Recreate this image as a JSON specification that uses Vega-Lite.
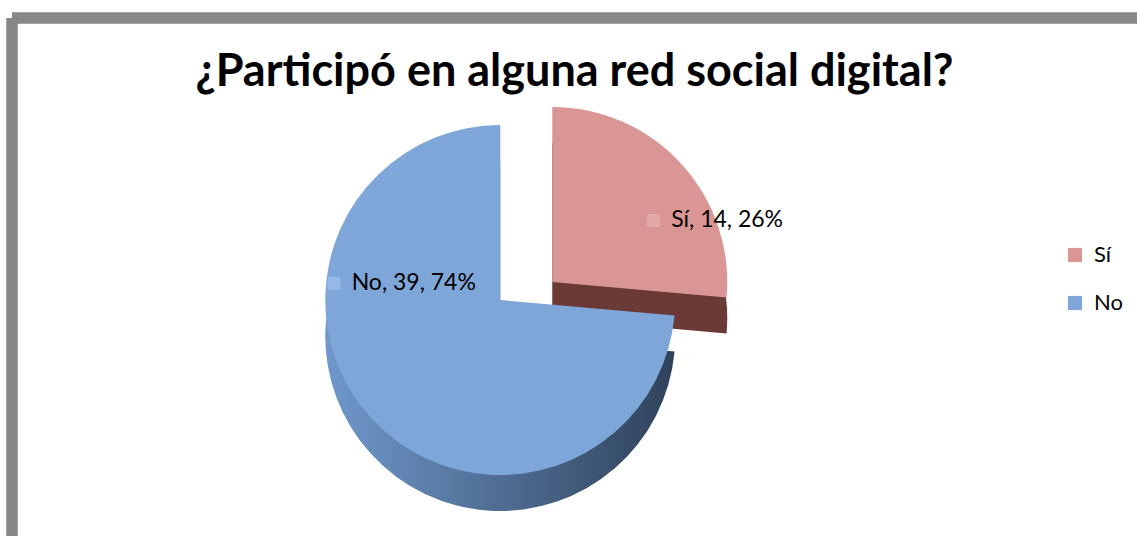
{
  "$schema": "https://vega.github.io/schema/vega-lite/v6.json",
  "autosize": "none",
  "width": 1125,
  "height": 518,
  "padding": {"left": 12, "top": 18, "right": 0, "bottom": 0},
  "background": "white",
  "config": {
    "view": {"stroke": null},
    "font": "Lato"
  },
  "title": {
    "text": "¿Participó en alguna red social digital?",
    "font": "Lato",
    "fontSize": 45,
    "fontWeight": "bold",
    "color": "#000000",
    "anchor": "middle",
    "offset": -82
  },
  "data": {
    "values": [
      {"cat": "Sí", "n": 14},
      {"cat": "No", "n": 39}
    ]
  },
  "transform": [
    {"joinaggregate": [{"op": "sum", "field": "n", "as": "total"}]},
    {"calculate": "datum.cat + ', ' + datum.n + ', ' + format(datum.n / datum.total, '.0%')", "as": "label"}
  ],
  "layer": [
    {
      "mark": {"type": "rect", "x": 0, "y": 0, "x2": "width", "y2": "height", "fill": null, "stroke": "#888888", "strokeWidth": 11, "strokeDash": [1125, 1643, 518, 0]},
      "encoding": {}
    },
    {
      "mark": {"type": "arc", "x": {"expr": "width*0.434 + 52"}, "y": {"expr": "282 - 18 + 36"}, "fill": "#6b3a36", "radius": 175},
      "encoding": {
        "theta": {"field": "n", "type": "quantitative", "stack": true},
        "order": {"field": "cat", "sort": "descending"},
        "opacity": {"condition": {"test": "datum.cat == 'Sí'", "value": 1}, "value": 0}
      }
    },
    {
      "mark": {"type": "arc", "x": {"expr": "width*0.434 + 52"}, "y": {"expr": "282 - 18"}, "radius": 175},
      "encoding": {
        "theta": {"field": "n", "type": "quantitative", "stack": true},
        "order": {"field": "cat", "sort": "descending"},
        "color": {"field": "cat", "type": "nominal", "scale": {"domain": ["Sí", "No"], "range": ["#d99694", "#7ea6d8"]},
          "legend": {"title": null, "orient": "none", "legendX": 1052, "legendY": 226, "symbolType": "square", "symbolSize": 200, "labelFontSize": 22, "labelFont": "Lato", "labelColor": "#000000", "rowPadding": 26, "symbolStrokeWidth": 0, "labelOffset": 8}},
        "opacity": {"condition": {"test": "datum.cat == 'Sí'", "value": 1}, "value": 0}
      }
    },
    {
      "mark": {"type": "arc", "x": {"expr": "width*0.434"}, "y": {"expr": "282 + 36"}, "radius": 175,
        "fill": {"gradient": "linear", "x1": 0, "x2": 1, "y1": 0, "y2": 0, "stops": [{"offset": 0, "color": "#7098cc"}, {"offset": 0.5, "color": "#4f6d93"}, {"offset": 1, "color": "#2f425a"}]}},
      "encoding": {
        "theta": {"field": "n", "type": "quantitative", "stack": true},
        "order": {"field": "cat", "sort": "descending"},
        "opacity": {"condition": {"test": "datum.cat == 'No'", "value": 1}, "value": 0}
      }
    },
    {
      "mark": {"type": "arc", "x": {"expr": "width*0.434"}, "y": {"expr": "282"}, "radius": 175},
      "encoding": {
        "theta": {"field": "n", "type": "quantitative", "stack": true},
        "order": {"field": "cat", "sort": "descending"},
        "color": {"field": "cat", "type": "nominal"},
        "opacity": {"condition": {"test": "datum.cat == 'No'", "value": 1}, "value": 0}
      }
    },
    {
      "mark": {"type": "text", "x": {"expr": "width*0.434 + 52"}, "y": {"expr": "282 - 18"}, "radius": 92, "align": "left", "dx": 51, "fontSize": 23, "font": "Lato", "color": "#000000"},
      "encoding": {
        "theta": {"field": "n", "type": "quantitative", "stack": true},
        "order": {"field": "cat", "sort": "descending"},
        "text": {"field": "label"},
        "opacity": {"condition": {"test": "datum.cat == 'Sí'", "value": 1}, "value": 0}
      }
    },
    {
      "mark": {"type": "text", "x": {"expr": "width*0.434 + 52"}, "y": {"expr": "282 - 18"}, "radius": 92, "align": "left", "dx": 25, "fontSize": 17, "font": "DejaVu Sans", "color": "#e3a9a7"},
      "encoding": {
        "theta": {"field": "n", "type": "quantitative", "stack": true},
        "order": {"field": "cat", "sort": "descending"},
        "text": {"value": "■"},
        "opacity": {"condition": {"test": "datum.cat == 'Sí'", "value": 1}, "value": 0}
      }
    },
    {
      "mark": {"type": "text", "x": {"expr": "width*0.434"}, "y": {"expr": "282"}, "radius": 110, "thetaOffset": 0.9, "align": "left", "dx": -40, "fontSize": 23, "font": "Lato", "color": "#000000"},
      "encoding": {
        "theta": {"field": "n", "type": "quantitative", "stack": true},
        "order": {"field": "cat", "sort": "descending"},
        "text": {"field": "label"},
        "opacity": {"condition": {"test": "datum.cat == 'No'", "value": 1}, "value": 0}
      }
    },
    {
      "mark": {"type": "text", "x": {"expr": "width*0.434"}, "y": {"expr": "282"}, "radius": 110, "thetaOffset": 0.9, "align": "left", "dx": -66, "fontSize": 17, "font": "DejaVu Sans", "color": "#95b8e6"},
      "encoding": {
        "theta": {"field": "n", "type": "quantitative", "stack": true},
        "order": {"field": "cat", "sort": "descending"},
        "text": {"value": "■"},
        "opacity": {"condition": {"test": "datum.cat == 'No'", "value": 1}, "value": 0}
      }
    }
  ]
}
